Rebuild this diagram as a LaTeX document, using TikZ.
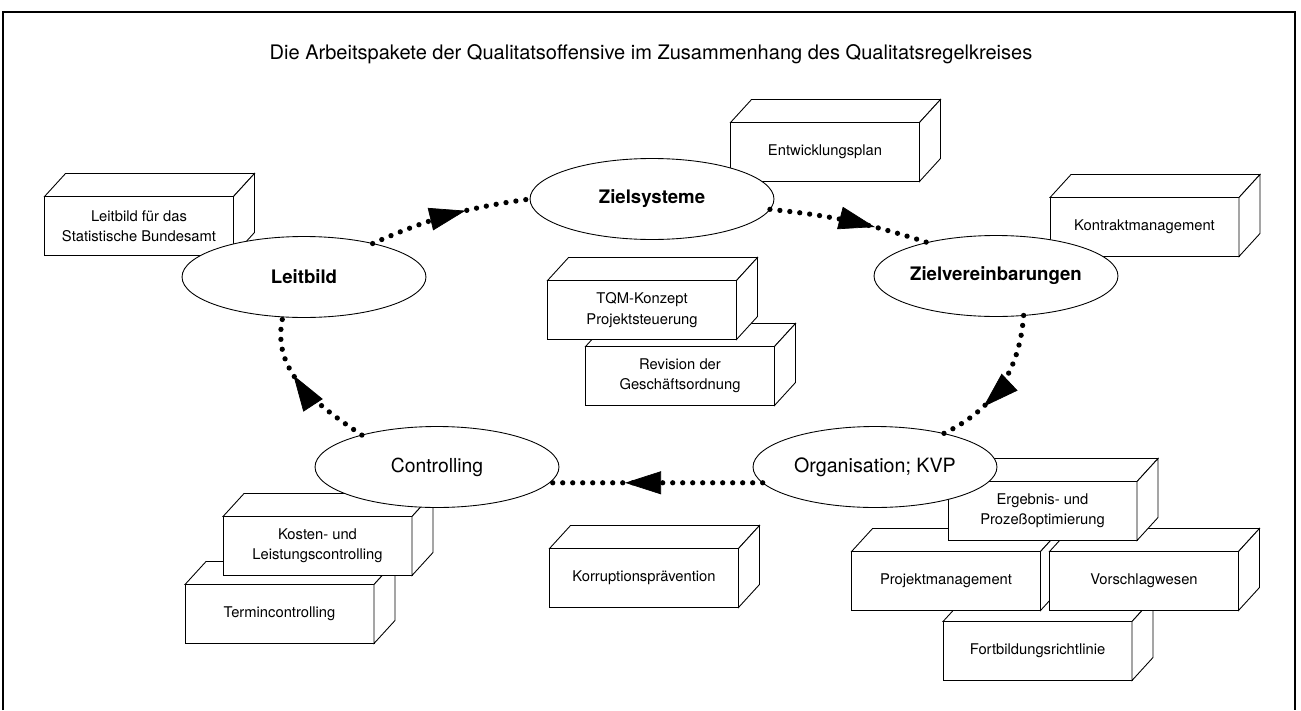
\documentclass[tikz,border=0pt]{standalone}
\usepackage{fontspec}
\setmainfont{TeX Gyre Heros}
\usetikzlibrary{positioning,shapes,arrows.meta,decorations.markings}

% top and side faces of a block
\newcommand{\blockfaces}[1]{%
	\draw[line width=0.5pt, fill=white] (#1.north west) -- ++(0.42cm,0.46cm) -- ([shift={(0.42cm,0.46cm)}]#1.north east) -- (#1.north east) -- cycle;
	\draw[line width=0.5pt, fill=white] (#1.north east) -- ([shift={(0.42cm,0.46cm)}]#1.north east) -- ([shift={(0.42cm,0.46cm)}]#1.south east) -- (#1.south east) -- cycle;}

\begin{document}
\begin{tikzpicture}[x=0.02cm, y=-0.02cm,
	block/.style={rectangle, draw, fill=white, line width=0.5pt, outer sep=0pt, minimum width=3.78cm, minimum height=1.18cm, align=center, font=\fontsize{8.4}{11.5}\selectfont},
	stage/.style={ellipse, draw, fill=white, line width=0.5pt, outer sep=0pt, inner xsep=-0.8cm, minimum width=4.88cm, minimum height=1.62cm, font=\fontsize{10.6}{12}\selectfont\bfseries},
	flow/.style={line width=3pt, line cap=round, dash pattern=on 0pt off 0.2cm, postaction={decorate}, decoration={markings, mark=at position #1 with {\arrow{Triangle[length=0.72cm, width=0.46cm, line width=0.4pt]}}}}]
	\useasboundingbox (0,0) rectangle (1301,710);
	\draw[line width=0.9pt] (3,710) -- (3,12) -- (1295,12) -- (1295,710);

	\node (title) at (651,54) [font=\fontsize{11.4}{13}\selectfont] {Die Arbeitspakete der Qualitatsoffensive im Zusammenhang des Qualitatsregelkreises};

	% blocks, back ones first
	\node (leitbox) [block] at (139,226) {Leitbild für das\\Statistische Bundesamt};
	\blockfaces{leitbox}
	\node (entwick) [block] at (825,152) {Entwicklungsplan};
	\blockfaces{entwick}
	\node (kontrakt) [block] at (1144.5,227) {Kontraktmanagement};
	\blockfaces{kontrakt}
	\node (revision) [block] at (680,376) {Revision der\\Geschäftsordnung};
	\blockfaces{revision}
	\node (tqm) [block, above=0.14cm of revision, xshift=-0.76cm] {TQM-Konzept\\Projektsteuerung};
	\blockfaces{tqm}
	\node (termin) [block] at (279.5,614) {Termincontrolling};
	\blockfaces{termin}
	\node (kosten) [block, above=0.18cm of termin, xshift=0.76cm] {Kosten- und\\Leistungscontrolling};
	\blockfaces{kosten}
	\node (korrupt) [block] at (644,578) {Korruptionsprävention};
	\blockfaces{korrupt}
	\node (fortbild) [block] at (1037.5,651) {Fortbildungsrichtlinie};
	\blockfaces{fortbild}
	\node (projekt) [block, above=0.22cm of fortbild, xshift=-1.83cm] {Projektmanagement};
	\blockfaces{projekt}
	\node (vorschlag) [block, right=0.18cm of projekt] {Vorschlagwesen};
	\blockfaces{vorschlag}
	\node (ergebnis) [block, above=0.22cm of projekt, xshift=1.93cm] {Ergebnis- und\\Prozeßoptimierung};
	\blockfaces{ergebnis}

	% the control loop
	\node (leitbild) [stage] at (304,277) {Leitbild};
	\node (zielsys) [stage] at (652,199) {Zielsysteme};
	\node (zielver) [stage] at (996,276) {Zielvereinbarungen};
	\node (orga) [stage, font=\fontsize{11.2}{13}\selectfont] at (875,467) {Organisation; KVP};
	\node (control) [stage, font=\fontsize{11}{13}\selectfont] at (437,467) {Controlling};

	\draw[flow=0.6] (leitbild.26) to[bend left=8] (zielsys.west);
	\draw[flow=0.66] (zielsys.355) to[bend left=6] (zielver.154);
	\draw[flow=0.68] (zielver.305) to[bend left=30] (orga.26);
	\draw[flow=0.645] (orga.188) -- (control.352);
	\draw[flow=0.6] (control.157) to[out=146, in=257] (leitbild.242);
\end{tikzpicture}
\end{document}
